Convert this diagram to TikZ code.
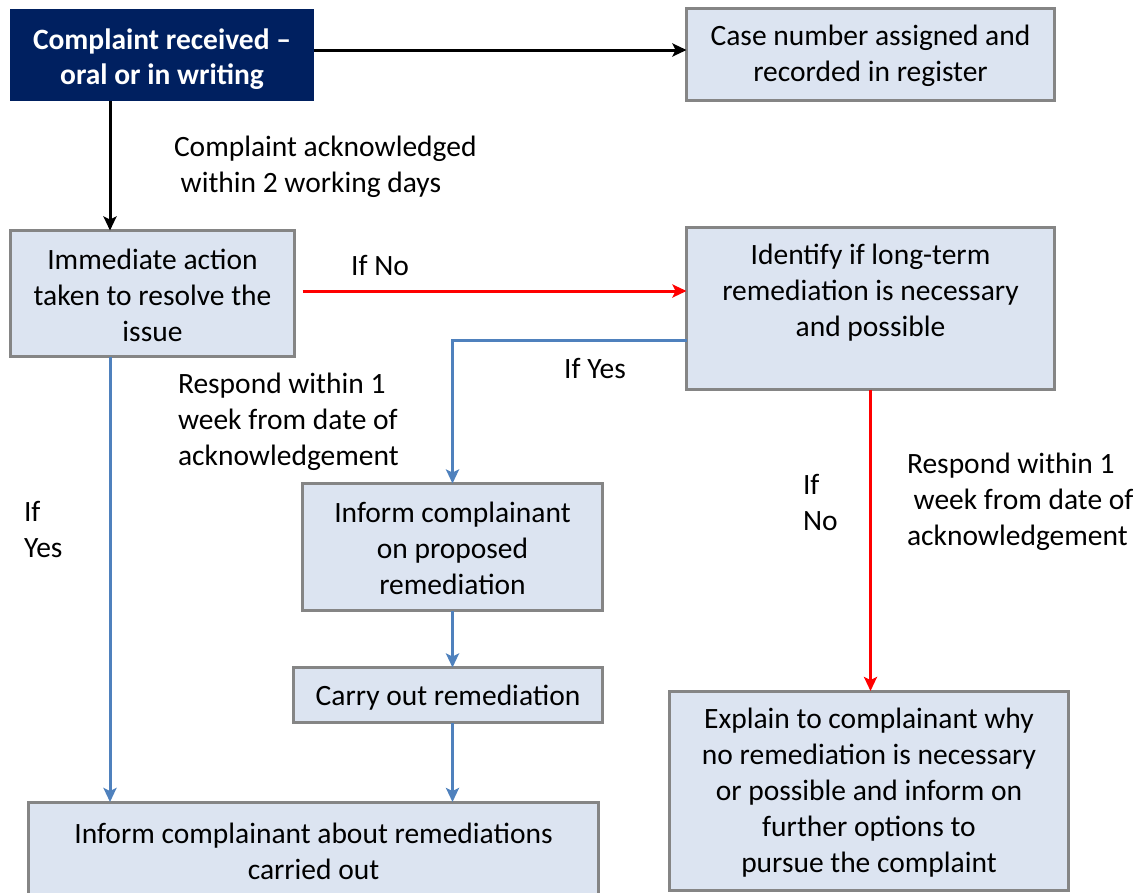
\documentclass[tikz,border=0pt]{standalone}
\usepackage{fontspec}
\setmainfont{Carlito}
\usetikzlibrary{arrows.meta,calc}
\definecolor{boxfill}{HTML}{DCE4F1}
\definecolor{boxline}{HTML}{858585}
\definecolor{navy}{HTML}{002060}
\definecolor{bluearr}{HTML}{4F81BD}
\definecolor{redarr}{HTML}{FF0000}
\begin{document}
\begin{tikzpicture}[x=1pt,y=-1pt,
  every node/.style={font=\fontsize{29.5}{36}\selectfont, inner sep=0pt, outer sep=0pt},
  box/.style={draw=boxline, fill=boxfill, line width=3pt, align=center},
  darkbox/.style={fill=navy},
  darktxt/.style={text=white, align=center, font=\fontsize{29.5}{35}\selectfont\bfseries},
  lbl/.style={align=left, anchor=north west},
  blk/.style={draw=black, line width=3pt, -{Stealth[length=14pt,width=13pt,inset=3pt]}},
  bl/.style={draw=bluearr, line width=3pt, -{Stealth[length=14pt,width=13pt,inset=3pt]}},
  rd/.style={draw=redarr, line width=3pt, -{Stealth[length=14pt,width=13pt,inset=3pt]}}]
\useasboundingbox (0,0) rectangle (1142,892);

% boxes
\node[darkbox, minimum width=304pt, minimum height=92pt] (cr) at (162,55) {};
\node[darktxt] (crtxt) at (162,59) {Complaint received –\\oral or in writing};
\node[box, minimum width=368pt, minimum height=92pt] (case) at (870.5,54.5) {};
\node[align=center] (casetxt) at (870.5,56) {Case number assigned and\\recorded in register};
\node[box, minimum width=284pt, minimum height=126pt] (imm) at (152.5,293.5) {};
\node[align=center] (immtxt) at (152.5,295) {Immediate action\\taken to resolve the\\issue};
\node[box, minimum width=368pt, minimum height=162pt] (ident) at (870.5,308.5) {};
\node[align=center] (identtxt) at (870.5,292.5) {Identify if long-term\\remediation is necessary\\and possible};
\node[box, minimum width=300pt, minimum height=127pt] (prop) at (452.5,547) {};
\node[align=center] (proptxt) at (452.5,548.5) {Inform complainant\\on proposed\\remediation};
\node[box, minimum width=309pt, minimum height=55pt] (carry) at (448,695) {};
\node (carrytxt) at (448,697.5) {Carry out remediation};
\node[box, minimum width=570pt, minimum height=96pt] (final) at (313.5,850) {};
\node[align=center] (finaltxt) at (313.5,851.5) {Inform complainant about remediations\\carried out};
\node[box, minimum width=399pt, minimum height=199pt] (expl) at (869,790.5) {};
\node[align=center] (expltxt) at (869,793) {Explain to complainant why\\no remediation is necessary\\or possible and inform on\\further options to\\pursue the complaint};

% labels
\node[lbl] (l1) at (174,136) {Complaint acknowledged\\\ within 2 working days};
\node (l2) at (380,265) {If No};
\node (l3) at (595,368) {If Yes};
\node[lbl] (l4) at (178,373) {Respond within 1\\week from date of\\acknowledgement};
\node[lbl] (l5) at (24,501) {If\\Yes};
\node[lbl] (l6) at (803,474) {If\\No};
\node[lbl] (l7) at (907,453) {Respond within 1\\\ week from date of\\acknowledgement};

% connectors
\draw[blk] (cr.east |- 0,50) -- (case.west |- 0,50);
\draw[blk] (cr.south -| 110,0) -- (imm.north -| 110,0);
\draw[rd, shorten <=8pt] (imm.east |- 0,291) -- (ident.west |- 0,291);
\draw[bl] (ident.west |- 0,340) -| (prop.north);
\draw[rd] (ident.south) -- (ident.south |- expl.north);
\draw[bl] (imm.south -| 110,0) -- (final.north -| 110,0);
\draw[bl] (prop.south) -- (prop.south |- carry.north);
\draw[bl] (carry.south -| prop.south) -- (final.north -| prop.south);
\end{tikzpicture}
\end{document}
